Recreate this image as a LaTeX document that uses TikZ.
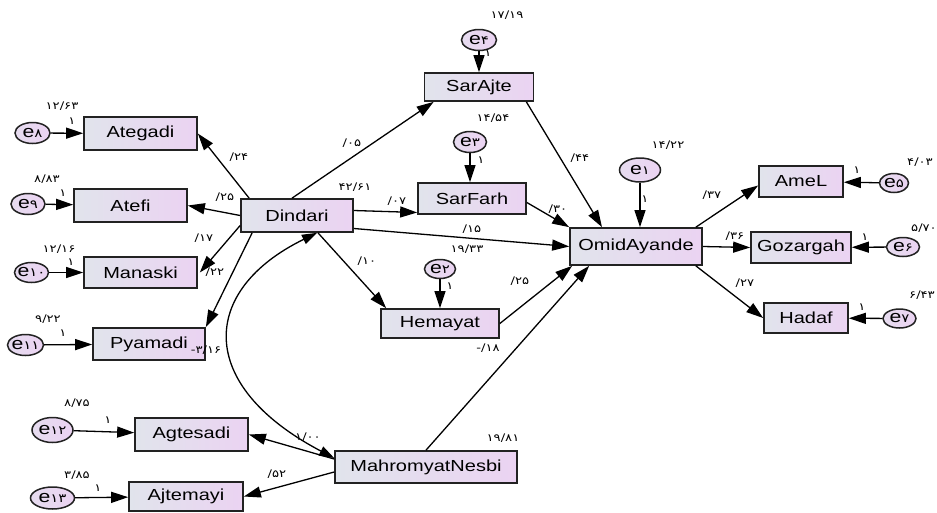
\documentclass[tikz,border=0pt]{standalone}
\usepackage{fontspec}
\usetikzlibrary{arrows.meta,shapes.geometric,calc}
\newfontfamily\boxfont[FakeStretch=1.25]{Liberation Sans}
\newfontfamily\numfont[FakeStretch=1.25]{DejaVu Sans}
\definecolor{boxL}{HTML}{E1E4EC}
\definecolor{boxR}{HTML}{EBD3F2}
\definecolor{edgec}{HTML}{222222}
\newcommand{\errtxt}[1]{{\boxfont\fontsize{17}{17}\selectfont e}{\numfont\fontsize{12}{12}\selectfont #1}}
\tikzset{
  vbox/.style={rectangle, draw=edgec, line width=1.7pt, left color=boxL, right color=boxR, inner sep=0pt, font=\boxfont\fontsize{16}{16}\selectfont},
  err/.style={ellipse, draw=edgec, line width=1.5pt, left color=boxL!50!boxR, right color=boxR, inner sep=0pt},
  nlab/.style={inner sep=0pt, font=\numfont\fontsize{10.5}{10.5}\selectfont},
  conn/.style={line width=1.3pt, draw=black, -{Triangle[length=17pt,width=11pt]}},
  dconn/.style={line width=1.3pt, draw=black, {Triangle[length=15pt,width=10pt]}-{Triangle[length=15pt,width=10pt]}},
}
\begin{document}
\begin{tikzpicture}[x=1pt,y=-1pt]
\fill[white] (0,0) rectangle (937,512);
\useasboundingbox (0,0) rectangle (937,512);

% observed boxes
\node[vbox, minimum width=109pt, minimum height=28pt] (SarAjte) at (479,87) {SarAjte};
\node[vbox, minimum width=108pt, minimum height=31pt] (SarFarh) at (472,198.5) {SarFarh};
\node[vbox, minimum width=112pt, minimum height=33pt] (Dindari) at (297,215.5) {Dindari};
\node[vbox, minimum width=118pt, minimum height=29pt] (Hemayat) at (440,323.5) {Hemayat};
\node[vbox, minimum width=182pt, minimum height=32pt] (Mahrom) at (426,467) {MahromyatNesbi};
\node[vbox, minimum width=132pt, minimum height=37pt] (Omid) at (636,246.5) {OmidAyande};
\node[vbox, minimum width=84pt, minimum height=31pt] (AmeL) at (801,181.5) {AmeL};
\node[vbox, minimum width=100pt, minimum height=31pt] (Gozargah) at (801,247.5) {Gozargah};
\node[vbox, minimum width=84pt, minimum height=30pt] (Hadaf) at (806,318) {Hadaf};
\node[vbox, minimum width=113pt, minimum height=33pt] (Ategadi) at (140.5,133.5) {Ategadi};
\node[vbox, minimum width=113pt, minimum height=33pt] (Atefi) at (130.5,205.5) {Atefi};
\node[vbox, minimum width=113pt, minimum height=31pt] (Manaski) at (140.5,272.5) {Manaski};
\node[vbox, minimum width=112pt, minimum height=32pt] (Pyamadi) at (149,344) {Pyamadi};
\node[vbox, minimum width=113pt, minimum height=33pt] (Agtesadi) at (191.5,434.5) {Agtesadi};
\node[vbox, minimum width=114pt, minimum height=29pt] (Ajtemayi) at (186,496.5) {Ajtemayi};

% error terms
\node[err, minimum width=35pt, minimum height=21pt, label=center:{\errtxt{۴}}] (e4) at (479,40) {};
\node[err, minimum width=33pt, minimum height=21pt, label=center:{\errtxt{۳}}] (e3) at (470,142) {};
\node[err, minimum width=31pt, minimum height=19pt, label=center:{\errtxt{۲}}] (e2) at (440,269) {};
\node[err, minimum width=41pt, minimum height=24pt, label=center:{\errtxt{۱}}] (e1) at (640,170) {};
\node[err, minimum width=29pt, minimum height=19pt, label=center:{\errtxt{۵}}] (e5) at (894,183) {};
\node[err, minimum width=33pt, minimum height=19pt, label=center:{\errtxt{۶}}] (e6) at (903,247) {};
\node[err, minimum width=33pt, minimum height=19pt, label=center:{\errtxt{۷}}] (e7) at (899.5,318.5) {};
\node[err, minimum width=35pt, minimum height=21pt, label=center:{\errtxt{۸}}] (e8) at (32.5,133) {};
\node[err, minimum width=34pt, minimum height=21pt, label=center:{\errtxt{۹}}] (e9) at (28,204) {};
\node[err, minimum width=34pt, minimum height=20pt, label=center:{\errtxt{۱۰}}] (e10) at (31.5,272.5) {};
\node[err, minimum width=36pt, minimum height=21pt, label=center:{\errtxt{۱۱}}] (e11) at (25.5,345) {};
\node[err, minimum width=41pt, minimum height=25pt, label=center:{\errtxt{۱۲}}] (e12) at (52.5,430) {};
\node[err, minimum width=44pt, minimum height=22pt, label=center:{\errtxt{۱۳}}] (e13) at (52.5,498) {};

% error arrows
\draw[conn] (e4) -- (e4 |- SarAjte.north);
\draw[conn] (e3) -- (e3 |- SarFarh.north);
\draw[conn] (e2) -- (e2 |- Hemayat.north);
\draw[conn] (e1) -- (e1 |- Omid.north);
\draw[conn] (e5) -- (AmeL);
\draw[conn] (e6) -- (Gozargah);
\draw[conn] (e7) -- (Hadaf);
\draw[conn] (e8) -- (Ategadi);
\draw[conn] (e9) -- (Atefi);
\draw[conn] (e10) -- (Manaski);
\draw[conn] (e11) -- (Pyamadi);
\draw[conn] (e12) -- (Agtesadi);
\draw[conn] (e13) -- (Ajtemayi);

% structural arrows
\draw[conn] ([xshift=9pt]Dindari.north west) -- (Ategadi.east);
\draw[conn] (Dindari.west) -- (Atefi.east);
\draw[conn] ([yshift=-10pt]Dindari.west) -- ([xshift=2pt]Manaski.east);
\draw[conn] ([xshift=12pt]Dindari.south west) -- (Pyamadi.north east);
\draw[conn] ([xshift=-5pt]Dindari.north) -- ([xshift=10pt]SarAjte.south west);
\draw[conn] ([yshift=5pt]Dindari.east) -- ([yshift=-14pt]SarFarh.west);
\draw[conn] ([yshift=-13pt]Dindari.east) -- (Omid.west);
\draw[conn] ([xshift=21pt]Dindari.south) -- ([xshift=6pt]Hemayat.north west);
\draw[conn] ([xshift=-8pt]SarAjte.south east) -- ([xshift=-34pt]Omid.north);
\draw[conn] ([yshift=-4pt]SarFarh.east) -- (Omid.north west);
\draw[conn] (Hemayat.east) -- ([xshift=3pt]Omid.south west);
\draw[conn] (Mahrom.north) -- ([xshift=20pt]Omid.south west);
\draw[conn] ([xshift=-7pt]Omid.north east) -- ([yshift=-4pt]AmeL.west);
\draw[conn] (Omid.east) -- (Gozargah.west);
\draw[conn] ([xshift=-7pt]Omid.south east) -- (Hadaf.west);
\draw[conn] ([yshift=8pt]Mahrom.west) -- (Agtesadi.east);
\draw[conn] ([yshift=-5pt]Mahrom.west) -- (Ajtemayi.east);
\draw[dconn] ([xshift=20pt]Dindari.south) .. controls (200,290) and (195,385) .. ([yshift=9pt]Mahrom.west);

% number labels
\node[nlab] (v4) at (507,15) {۱۷/۱۹};
\node[nlab] (o4) at (488,53) {۱};
\node[nlab] (v3) at (493,118) {۱۴/۵۴};
\node[nlab] (o3) at (481,160) {۱};
\node[nlab] (pSA) at (352,143) {/۰۵};
\node[nlab] (vD) at (355,187) {۴۲/۶۱};
\node[nlab] (pSF) at (397,201) {/۰۷};
\node[nlab] (pDO) at (472,229) {/۱۵};
\node[nlab] (vH) at (467,249) {۱۹/۳۳};
\node[nlab] (pDH) at (367,261) {/۱۰};
\node[nlab] (o2) at (450,286) {۱};
\node[nlab] (pHO) at (520,281) {/۲۵};
\node[nlab] (pMO) at (488,348) {-/۱۸};
\node[nlab] (vM) at (503,438) {۱۹/۸۱};
\node[nlab] (cov) at (308,437) {۱/۰۰};
\node[nlab] (pAj) at (277,474) {/۵۲};
\node[nlab] (pSAO) at (580,158) {/۴۴};
\node[nlab] (pSFO) at (558,209) {/۳۰};
\node[nlab] (v1) at (668,145) {۱۴/۲۲};
\node[nlab] (o1) at (645,199) {۱};
\node[nlab] (pAm) at (712,195) {/۳۷};
\node[nlab] (pGo) at (735,236) {/۳۶};
\node[nlab] (pHa) at (745,283) {/۲۷};
\node[nlab] (v5) at (920,162) {۴/۰۳};
\node[nlab] (o5) at (857,170) {۱};
\node[nlab] (v6) at (924,228) {۵/۷۰};
\node[nlab] (o6) at (865,237) {۱};
\node[nlab] (v7) at (922,295) {۶/۴۳};
\node[nlab] (o7) at (862,307) {۱};
\node[nlab] (pAt) at (239,157) {/۲۴};
\node[nlab] (pAf) at (225,197) {/۲۵};
\node[nlab] (pMa) at (204,238) {/۱۷};
\node[nlab] (vMa) at (215,272) {/۲۲};
\node[nlab] (vPy) at (206,350) {-۳/۱۶};
\node[nlab] (v8) at (62,106) {۱۲/۶۳};
\node[nlab] (o8) at (72,121) {۱};
\node[nlab] (v9) at (47,179) {۸/۸۳};
\node[nlab] (o9) at (63,193) {۱};
\node[nlab] (v10) at (59,249) {۱۲/۱۶};
\node[nlab] (o10) at (71,262) {۱};
\node[nlab] (v11) at (48,319) {۹/۲۲};
\node[nlab] (o11) at (63,333) {۱};
\node[nlab] (v12) at (77,403) {۸/۷۵};
\node[nlab] (o12) at (108,420) {۱};
\node[nlab] (v13) at (77,475) {۳/۸۵};
\node[nlab] (o13) at (98,488) {۱};
\end{tikzpicture}
\end{document}
